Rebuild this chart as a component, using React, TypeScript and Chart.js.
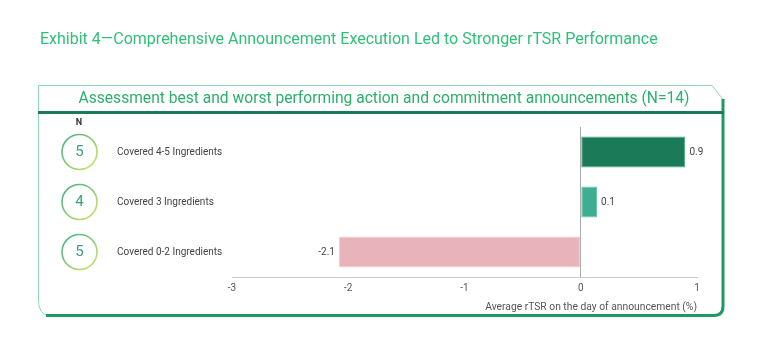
import React, { useEffect, useRef } from "react";
import { Chart, registerables } from "chart.js";

Chart.register(...registerables);

const categories = ["Covered 4-5 Ingredients", "Covered 3 Ingredients", "Covered 0-2 Ingredients"];
const counts = [5, 4, 5];
const values = [0.9, 0.14, -2.08];
const valueLabels = ["0.9", "0.1", "-2.1"];
const barColors = ["#1b7a58", "#3dae8f", "#e9b3bc"];
const barBorders = ["#4aa683", "#6cc6ab", "#f1cdd3"];
const xMin = -3;
const xMax = 1;
const title = "Exhibit 4\u2014Comprehensive Announcement Execution Led to Stronger rTSR Performance";
const subtitle = "Assessment best and worst performing action and commitment announcements (N=14)";
const xTitle = "Average rTSR on the day of announcement (%)";

const FONT = "Roboto, 'Liberation Sans', sans-serif";

const framePlugin = {
  id: "frame",
  beforeDraw(chart: any) {
    const ctx = chart.ctx;
    ctx.save();
    ctx.fillStyle = "#ffffff";
    ctx.fillRect(0, 0, chart.width, chart.height);
    // Title
    ctx.fillStyle = "#30bf78";
    ctx.font = `16px ${FONT}`;
    ctx.textBaseline = "middle";
    ctx.textAlign = "left";
    ctx.fillText(title, 40, 40);
    // Frame thin edges
    ctx.strokeStyle = "#8fd6b6";
    ctx.lineWidth = 1;
    ctx.beginPath();
    ctx.moveTo(38.5, 300);
    ctx.lineTo(38.5, 85.5);
    ctx.lineTo(712, 85.5);
    ctx.lineTo(723.5, 100);
    ctx.stroke();
    ctx.beginPath();
    ctx.moveTo(38.5, 300);
    ctx.quadraticCurveTo(38.5, 315.5, 50, 315.5);
    ctx.stroke();
    // Thick right + bottom
    ctx.strokeStyle = "#1f9964";
    ctx.lineWidth = 3;
    ctx.beginPath();
    ctx.moveTo(46, 315.5);
    ctx.lineTo(714, 315.5);
    ctx.quadraticCurveTo(723, 315.5, 723, 306);
    ctx.lineTo(723, 99);
    ctx.stroke();
    // Header line
    ctx.strokeStyle = "#1c7a56";
    ctx.lineWidth = 3;
    ctx.beginPath();
    ctx.moveTo(38, 112.5);
    ctx.lineTo(724, 112.5);
    ctx.stroke();
    // Subtitle
    ctx.fillStyle = "#2bb06d";
    ctx.font = `15.6px ${FONT}`;
    ctx.textAlign = "center";
    ctx.fillText(subtitle, 384, 99);
    // N header
    ctx.fillStyle = "#333333";
    ctx.font = `bold 9px ${FONT}`;
    ctx.fillText("N", 79, 123);
    ctx.restore();
  },
  afterDatasetsDraw(chart: any) {
    const ctx = chart.ctx;
    const yScale = chart.scales.y;
    const meta = chart.getDatasetMeta(0);
    ctx.save();
    ctx.textBaseline = "middle";
    categories.forEach((cat, i) => {
      const y = yScale.getPixelForValue(i);
      // circle
      const cx = 79.5;
      const r = 17.5;
      const grad = ctx.createLinearGradient(cx - r, y - r, cx + r, y + r);
      grad.addColorStop(0, "#3fae86");
      grad.addColorStop(1, "#d6e66a");
      ctx.strokeStyle = grad;
      ctx.lineWidth = 1.6;
      ctx.beginPath();
      ctx.arc(cx, y, r, 0, Math.PI * 2);
      ctx.stroke();
      ctx.fillStyle = "#3a9f7e";
      ctx.font = `15px ${FONT}`;
      ctx.textAlign = "center";
      ctx.fillText(String(counts[i]), cx, y + 0.5);
      // category label
      ctx.fillStyle = "#444444";
      ctx.font = `10px ${FONT}`;
      ctx.textAlign = "left";
      ctx.fillText(cat, 117, y);
      // value label
      const bar = meta.data[i];
      const v = values[i];
      if (v >= 0) {
        ctx.textAlign = "left";
        ctx.fillText(valueLabels[i], bar.x + 4, y);
      } else {
        ctx.textAlign = "right";
        ctx.fillText(valueLabels[i], bar.x - 4, y);
      }
    });
    ctx.restore();
  },
};

export default function App() {
  const ref = useRef<HTMLCanvasElement>(null);
  useEffect(() => {
    if (!ref.current) return;
    const chart = new Chart(ref.current, {
      type: "bar",
      data: {
        labels: categories,
        datasets: [
          {
            data: values,
            backgroundColor: barColors,
            borderColor: barBorders,
            borderWidth: 1,
            borderSkipped: false,
            categoryPercentage: 1,
            barPercentage: 0.62,
          },
        ],
      },
      options: {
        indexAxis: "y",
        animation: false,
        responsive: false,
        maintainAspectRatio: false,
        layout: { padding: { left: 232, right: 71, top: 127, bottom: 34 } },
        plugins: { legend: { display: false }, tooltip: { enabled: false } },
        scales: {
          y: {
            display: false,
          },
          x: {
            min: xMin,
            max: xMax,
            afterFit: (axis: any) => {
              axis.height = 37;
            },
            ticks: {
              stepSize: 1,
              padding: 5,
              color: "#555555",
              font: { family: FONT, size: 10 },
            },
            grid: {
              drawTicks: false,
              color: (c: any) => (c.tick && c.tick.value === 0 ? "#aaaaaa" : "rgba(0,0,0,0)"),
              lineWidth: 1,
            },
            border: { display: true, color: "#cccccc", width: 1 },
            title: {
              display: true,
              text: xTitle,
              align: "end",
              color: "#555555",
              font: { family: FONT, size: 10.3 },
              padding: { top: 0, bottom: 0 },
            },
          },
        },
      },
      plugins: [framePlugin],
    });
    return () => chart.destroy();
  }, []);
  return (
    <div style={{ position: "fixed", left: 0, top: 0, width: 768, height: 348 }}>
      <canvas ref={ref} width={768} height={348} style={{ width: 768, height: 348, display: "block" }} />
    </div>
  );
}
